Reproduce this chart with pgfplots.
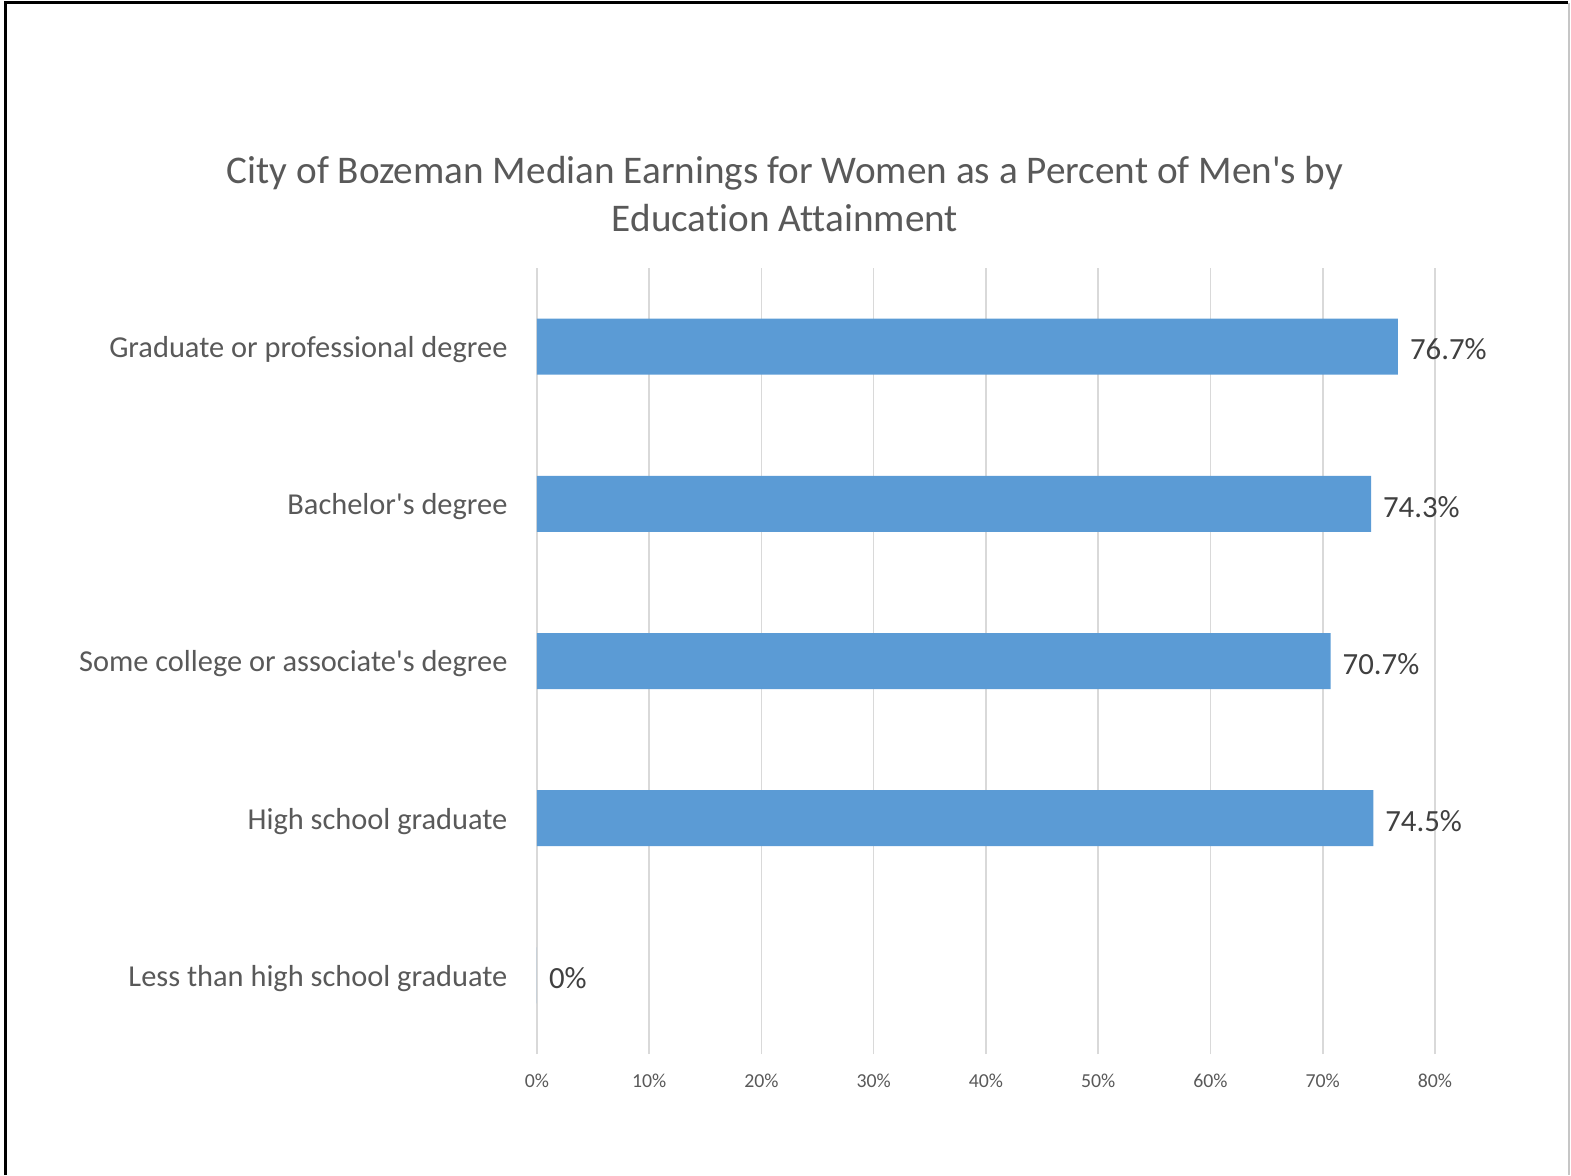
\documentclass[border=0pt]{standalone}
\usepackage{fontspec}
\setmainfont{Carlito}[Ligatures={TeXOff,NoCommon}]
\usepackage{pgfplots}
\pgfplotsset{compat=1.18}
\definecolor{barblue}{HTML}{5B9BD5}
\definecolor{txt}{HTML}{595959}
\definecolor{lbl}{HTML}{404040}
\definecolor{gridc}{HTML}{D9D9D9}
\begin{document}
\begin{tikzpicture}
\path[use as bounding box] (0pt,0pt) rectangle (785.5pt,587.5pt);
\draw[line width=1.5pt, black] (2.5pt,0pt) -- (2.5pt,586pt) -- (784pt,586pt);
\draw[line width=0.75pt, gray!45] (784.5pt,586pt) -- (784.5pt,0pt);
\node[text=txt, font=\fontsize{19.6}{24}\selectfont, align=center] at (392.5pt,490.5pt)
  {City of Bozeman Median Earnings for Women as a Percent of Men's by\\Education Attainment};
\begin{axis}[
  at={(268.5pt,60.5pt)}, anchor=south west,
  scale only axis, width=449pt, height=393pt,
  xmin=0, xmax=80, ymin=-0.5, ymax=4.5,
  xbar, bar width=28pt,
  axis line style={draw=none},
  tick style={draw=none},
  xmajorgrids,
  major grid style={gridc, line width=0.75pt},
  xtick={0,10,20,30,40,50,60,70,80},
  xticklabels={0\%,10\%,20\%,30\%,40\%,50\%,60\%,70\%,80\%},
  ytick={0,1,2,3,4},
  yticklabels={Less than high school graduate,High school graduate,Some college or associate's degree,Bachelor's degree,Graduate or professional degree},
  xticklabel style={font=\fontsize{9.9}{12}\selectfont, text=txt, yshift=-6.5pt},
  yticklabel style={font=\fontsize{15.2}{18}\selectfont, text=txt, xshift=-7pt, yshift=-1.5pt},
  point meta=explicit symbolic,
  nodes near coords,
  nodes near coords style={font=\fontsize{15.4}{18}\selectfont, text=lbl, anchor=west, xshift=2.5pt, yshift=-1.5pt},
]
\addplot[fill=barblue, draw=none] coordinates {
  (0,0) [0\%]
  (74.5,1) [74.5\%]
  (70.7,2) [70.7\%]
  (74.3,3) [74.3\%]
  (76.7,4) [76.7\%]
};
\end{axis}
\end{tikzpicture}
\end{document}
